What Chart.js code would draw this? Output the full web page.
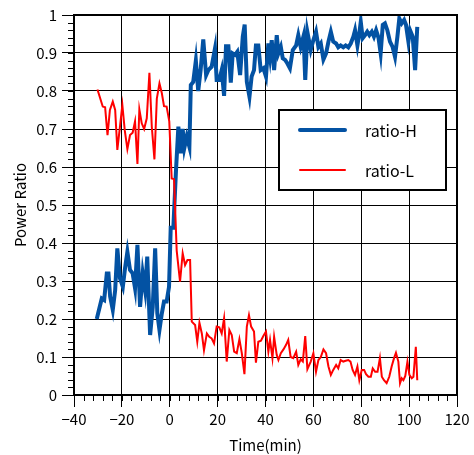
<!DOCTYPE html>
<html>
<head>
<meta charset="utf-8">
<script src="https://cdn.jsdelivr.net/npm/chart.js@4/dist/chart.umd.min.js"></script>
<style>
  html, body { margin: 0; padding: 0; background: #fff; }
  #caixa { width: 474px; height: 455px; }
</style>
</head>
<body>
<div id="caixa"><canvas id="grafico" width="474" height="455"></canvas></div>
<script>
// dados
const timeH = [-30.5, -28.4, -27.4, -26.3, -25.6, -24.9, -23.8, -22.8, -21.9, -20.8, -19.6, -18.7, -17.7, -16.6, -15.5, -14.5, -13.5, -12.4, -11.3, -10.3,
  -9.4, -8.2, -7.1, -6.1, -5.2, -4.3, -3.3, -2.4, -1.3, -0.3, 0.4, 1.5, 2.6, 3.6, 4.6, 5.4, 6.1, 7.1, 8.2, 8.8,
  9.8, 10.9, 11.9, 12.9, 14, 15.2, 16.1, 17.5, 18.9, 19.6, 20.7, 21.7, 22.7, 23.5, 24.5, 25.5, 26.3, 27.3, 28.2, 29.4,
  30.5, 31.3, 32.2, 33.3, 34.2, 35.2, 36, 37, 38, 39.1, 40.2, 41.2, 41.9, 42.6, 43.6, 44.7, 45.4, 46.4, 47.2, 48.2,
  49.1, 50.2, 51.4, 52.8, 53.7, 54.7, 55.9, 56.6, 57.5, 58.9, 60, 61.1, 62.1, 63.1, 64.2, 65.3, 66.3, 67.3, 68.3, 69.5,
  70.4, 71.4, 72.5, 73.5, 74.6, 75.6, 76.7, 77.4, 78.4, 79.2, 79.8, 80.6, 81.6, 82.5, 83.4, 84.4, 85.3, 86.2, 87.2, 88.1,
  89, 89.9, 90.9, 92, 93.1, 94.1, 95.1, 95.9, 96.9, 97.9, 98.7, 99.7, 100.4, 101.5, 102.5, 103.4];
const ratioH = [0.20, 0.254, 0.25, 0.32, 0.32, 0.259, 0.224, 0.276, 0.386, 0.307, 0.285, 0.333, 0.377, 0.329, 0.32, 0.281, 0.395, 0.232, 0.32, 0.276,
  0.364, 0.158, 0.232, 0.386, 0.215, 0.171, 0.215, 0.246, 0.246, 0.285, 0.44, 0.44, 0.59, 0.706, 0.636, 0.70, 0.65, 0.68, 0.653, 0.816,
  0.824, 0.88, 0.80, 0.855, 0.936, 0.842, 0.855, 0.864, 0.912, 0.829, 0.829, 0.855, 0.787, 0.918, 0.918, 0.822, 0.899, 0.895, 0.903, 0.842,
  0.943, 0.975, 0.824, 0.785, 0.838, 0.855, 0.92, 0.92, 0.855, 0.86, 0.838, 0.925, 0.89, 0.934, 0.855, 0.947, 0.899, 0.916, 0.886, 0.882,
  0.873, 0.86, 0.908, 0.92, 0.947, 0.916, 0.945, 0.829, 0.955, 0.908, 0.934, 0.956, 0.916, 0.925, 0.883, 0.899, 0.93, 0.956, 0.93, 0.925,
  0.915, 0.92, 0.915, 0.92, 0.915, 0.925, 0.943, 0.96, 0.92, 0.952, 0.982, 0.939, 0.947, 0.956, 0.947, 0.956, 0.943, 0.96, 0.94, 0.899,
  0.974, 0.978, 0.96, 0.93, 0.916, 0.89, 0.943, 0.991, 0.978, 0.987, 0.974, 0.93, 0.96, 0.943, 0.855, 0.969];

const timeL = [-30.2, -28, -27, -26, -25, -23.8, -22.8, -21.9, -20.8, -19.8, -18.8, -17.7, -16.6, -15.5, -14.5, -13.5, -12.7, -11.7, -10.7, -9.6,
  -8.5, -7.5, -6.4, -5.4, -4.3, -3.3, -2.4, -1.3, -0.2, 0.8, 1.8, 2.9, 4.3, 5.4, 6.4, 7.4, 8.5, 9.2, 10.6, 11.5,
  12.4, 13.4, 14.3, 15.5, 16.5, 17.5, 18.5, 19.6, 20.7, 21.7, 22.7, 23.8, 24.9, 25.9, 26.9, 28, 29.1, 30.1, 31.2, 32.2,
  33.1, 34, 35.2, 36, 37, 38.1, 39.1, 40.2, 41.2, 41.9, 42.9, 43.6, 44.7, 45.4, 46.4, 47.5, 48.6, 49.5, 50.5, 51.6,
  52.8, 53.7, 54.7, 55.6, 56.6, 57.5, 58.9, 60, 61.1, 62.1, 63.1, 64.2, 65.3, 66.3, 67.3, 68.3, 69.5, 70.4, 71.4, 72.5,
  73.5, 74.6, 75.5, 76.4, 77.4, 78.4, 79.2, 80.2, 81.2, 82, 83, 84, 84.8, 85.8, 86.8, 87.8, 88.6, 89.5, 90.6, 91.7,
  92.7, 93.7, 94.5, 95.5, 96.2, 96.9, 97.6, 98.4, 99.3, 100.1, 101.1, 101.8, 102.8, 103.4];
const ratioL = [0.804, 0.759, 0.757, 0.684, 0.75, 0.772, 0.75, 0.645, 0.706, 0.763, 0.697, 0.647, 0.684, 0.69, 0.72, 0.608, 0.752, 0.715, 0.70, 0.728,
  0.848, 0.706, 0.62, 0.78, 0.82, 0.794, 0.76, 0.759, 0.72, 0.57, 0.568, 0.38, 0.298, 0.373, 0.342, 0.355, 0.355, 0.193, 0.184, 0.14,
  0.19, 0.162, 0.118, 0.162, 0.153, 0.149, 0.136, 0.18, 0.178, 0.162, 0.202, 0.088, 0.171, 0.158, 0.114, 0.11, 0.147, 0.11, 0.055, 0.18,
  0.21, 0.18, 0.167, 0.085, 0.14, 0.143, 0.155, 0.167, 0.114, 0.145, 0.097, 0.153, 0.105, 0.092, 0.11, 0.12, 0.132, 0.145, 0.10, 0.097,
  0.114, 0.079, 0.094, 0.088, 0.155, 0.068, 0.088, 0.11, 0.061, 0.092, 0.10, 0.12, 0.11, 0.075, 0.053, 0.066, 0.079, 0.07, 0.092, 0.088,
  0.09, 0.092, 0.088, 0.066, 0.053, 0.075, 0.039, 0.066, 0.066, 0.055, 0.048, 0.048, 0.07, 0.061, 0.061, 0.097, 0.048, 0.039, 0.031, 0.048,
  0.075, 0.097, 0.111, 0.088, 0.031, 0.044, 0.039, 0.05, 0.088, 0.053, 0.044, 0.048, 0.127, 0.039];

// marcas dos eixos
const xTickValues = [-40, -20, 0, 20, 40, 60, 80, 100, 120];
const yTickValues = [0, 0.1, 0.2, 0.3, 0.4, 0.5, 0.6, 0.7, 0.8, 0.9, 1];
const legendLabels = ['ratio-H', 'ratio-L'];

const fonte = "'Noto Sans CJK JP', 'Noto Sans', sans-serif";

function pares(xs, ys) {
    return xs.map((x, i) => ({ x: x, y: ys[i] }));
}

// moldura, marcas menores e legenda
const molduraPlugin = {
    id: 'moldura',
    afterDatasetsDraw(chart) {
        const { ctx, chartArea: a, scales } = chart;
        const sx = scales.x, sy = scales.y;
        ctx.save();
        ctx.strokeStyle = '#000';
        ctx.lineWidth = 1;
        ctx.beginPath();
        for (let v = sx.min; v <= sx.max + 0.001; v += 4) {
            const px = Math.round(sx.getPixelForValue(v)) + 0.5;
            ctx.moveTo(px, a.bottom);
            ctx.lineTo(px, a.bottom + 6);
        }
        for (let v = sy.min; v <= sy.max + 0.0001; v += 0.02) {
            const py = Math.round(sy.getPixelForValue(v)) + 0.5;
            ctx.moveTo(a.left, py);
            ctx.lineTo(a.left - 6, py);
        }
        ctx.stroke();

        ctx.lineWidth = 2;
        ctx.strokeRect(a.left, a.top, a.right - a.left, a.bottom - a.top);

        // legenda
        const lx = 279, ly = 110, lw = 167, lh = 80;
        ctx.fillStyle = '#fff';
        ctx.fillRect(lx, ly, lw, lh);
        ctx.lineWidth = 2;
        ctx.strokeStyle = '#000';
        ctx.strokeRect(lx, ly, lw, lh);
        const linhas = [ly + 20, ly + 60];
        chart.data.datasets.forEach((ds, i) => {
            ctx.strokeStyle = ds.borderColor;
            ctx.lineWidth = ds.borderWidth;
            ctx.lineCap = 'round';
            ctx.beginPath();
            ctx.moveTo(lx + 21, linhas[i]);
            ctx.lineTo(lx + 66, linhas[i]);
            ctx.stroke();
            ctx.fillStyle = '#000';
            ctx.font = "16px " + fonte;
            ctx.textBaseline = 'middle';
            ctx.textAlign = 'left';
            ctx.fillText(legendLabels[i], lx + 86, linhas[i] + 1);
        });
        ctx.restore();
    }
};

function criaGrafico() {
    const ctx = document.getElementById('grafico');
    return new Chart(ctx, {
        type: 'line',
        data: {
            datasets: [
                {
                    label: legendLabels[0],
                    data: pares(timeH, ratioH),
                    borderColor: '#0352a3',
                    borderWidth: 4,
                    pointRadius: 0,
                    tension: 0,
                    order: 1
                },
                {
                    label: legendLabels[1],
                    data: pares(timeL, ratioL),
                    borderColor: '#ff0000',
                    borderWidth: 2,
                    pointRadius: 0,
                    tension: 0,
                    order: 0
                }
            ]
        },
        options: {
            responsive: false,
            animation: false,
            devicePixelRatio: 1,
            layout: { padding: { left: 0, right: 17, top: 15, bottom: 0 } },
            plugins: { legend: { display: false }, tooltip: { enabled: false } },
            scales: {
                x: {
                    type: 'linear',
                    min: -40,
                    max: 120,
                    afterBuildTicks: s => { s.ticks = xTickValues.map(v => ({ value: v })); },
                    afterFit: s => { s.height = 60; },
                    grid: { color: '#000', lineWidth: 1, tickLength: 12, tickColor: '#000' },
                    border: { display: false },
                    ticks: {
                        color: '#000',
                        padding: 3,
                        maxRotation: 0,
                        font: { family: fonte, size: 15 },
                        callback: v => String(v).replace('-', '\u2212')
                    },
                    title: {
                        display: true,
                        text: 'Time(min)',
                        color: '#000',
                        font: { family: fonte, size: 15 },
                        padding: { top: 0, bottom: 1 }
                    }
                },
                y: {
                    min: 0,
                    max: 1,
                    afterBuildTicks: s => { s.ticks = yTickValues.map(v => ({ value: v })); },
                    afterFit: s => { s.width = 74; },
                    grid: { color: '#000', lineWidth: 1, tickLength: 12, tickColor: '#000' },
                    border: { display: false },
                    ticks: {
                        color: '#000',
                        padding: 5,
                        font: { family: fonte, size: 15 },
                        callback: v => String(Math.round(v * 10) / 10)
                    },
                    title: {
                        display: true,
                        text: 'Power Ratio',
                        color: '#000',
                        font: { family: fonte, size: 15 },
                        padding: { top: 11, bottom: 0 }
                    }
                }
            }
        },
        plugins: [molduraPlugin]
    });
}

criaGrafico();
</script>
</body>
</html>
